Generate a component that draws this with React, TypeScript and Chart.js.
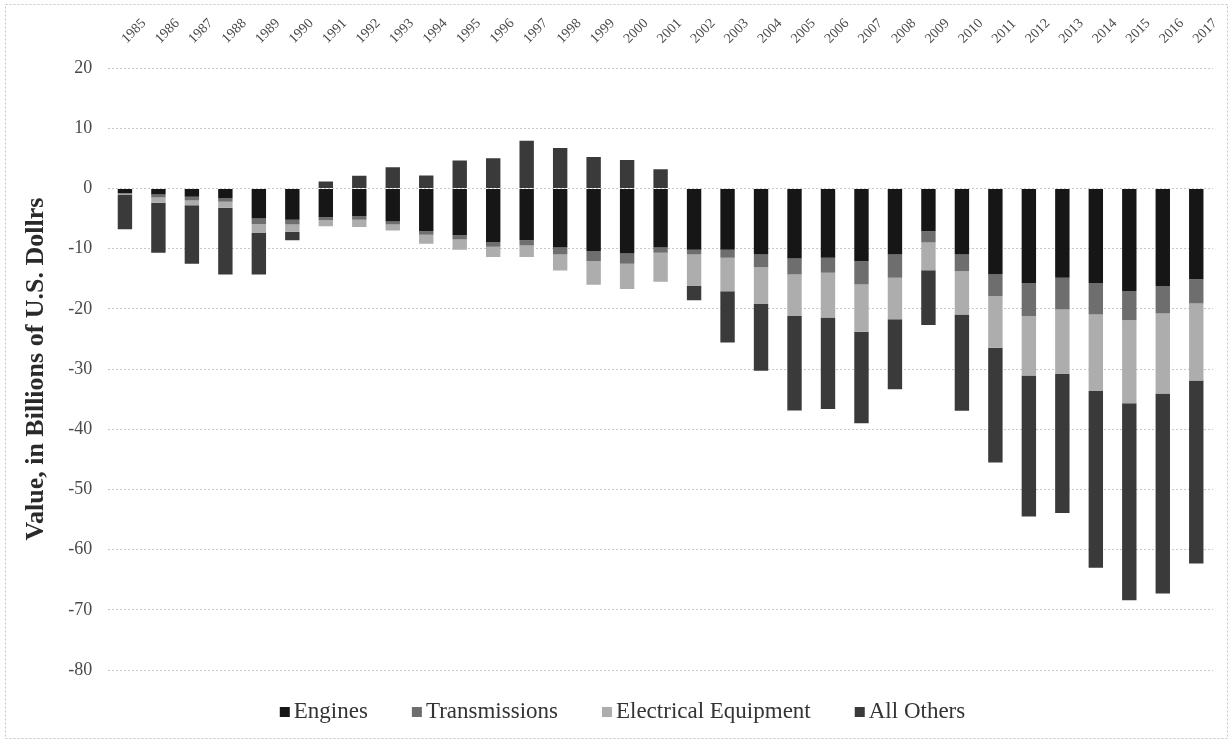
import React, { useEffect, useRef } from "react";
import { Chart, registerables } from "chart.js";

Chart.register(...registerables);

const years = [
  "1985", "1986", "1987", "1988", "1989", "1990", "1991", "1992", "1993", "1994",
  "1995", "1996", "1997", "1998", "1999", "2000", "2001", "2002", "2003", "2004",
  "2005", "2006", "2007", "2008", "2009", "2010", "2011", "2012", "2013", "2014",
  "2015", "2016", "2017",
];

const engines = [
  -0.8, -1.0, -1.4, -1.6, -5.0, -5.2, -4.8, -4.6, -5.5, -7.1,
  -7.8, -8.9, -8.6, -9.8, -10.4, -10.8, -9.8, -10.2, -10.2, -11.0,
  -11.65, -11.5, -12.1, -11.0, -7.1, -11.0, -14.2, -15.7, -14.85, -15.7,
  -17.05, -16.2, -15.1,
];

const transmissions = [
  -0.1, -0.5, -0.6, -0.6, -0.9, -0.8, -0.5, -0.6, -0.5, -0.6,
  -0.7, -0.8, -0.9, -1.2, -1.65, -1.7, -0.9, -0.8, -1.3, -2.1,
  -2.65, -2.5, -3.85, -3.85, -1.9, -2.75, -3.7, -5.5, -5.25, -5.25,
  -4.85, -4.6, -4.0,
];

const electrical = [
  -0.1, -0.9, -0.8, -1.0, -1.5, -1.2, -1.0, -1.2, -1.0, -1.5,
  -1.7, -1.7, -1.9, -2.65, -3.95, -4.2, -4.8, -5.2, -5.6, -6.1,
  -6.9, -7.45, -7.85, -6.9, -4.6, -7.2, -8.55, -9.9, -10.75, -12.7,
  -13.8, -13.25, -12.8,
];

const allOthers = [
  -5.8, -8.3, -9.7, -11.1, -6.9, -1.4, 1.15, 2.1, 3.5, 2.15,
  4.65, 5.0, 7.9, 6.7, 5.2, 4.7, 3.2, -2.4, -8.5, -11.1,
  -15.7, -15.2, -15.2, -11.6, -9.1, -16.0, -19.1, -23.4, -23.05, -29.35,
  -32.7, -33.25, -30.4,
];

const seriesLabels = ["Engines", "Transmissions", "Electrical Equipment", "All Others"];
const seriesColors = ["#161616", "#6e6e6e", "#adadad", "#3a3a3a"];

const yMin = -80;
const yMax = 20;
const yStep = 10;

const axisTitle = "Value, in Billions of U.S. Dollrs";

const SERIF = "'Liberation Serif', 'Times New Roman', serif";

const frameAndLegend = {
  id: "frameAndLegend",
  beforeDraw(chart: any) {
    const { ctx, width, height } = chart;
    ctx.save();
    ctx.fillStyle = "#ffffff";
    ctx.fillRect(0, 0, width, height);
    ctx.strokeStyle = "#c4c4c4";
    ctx.lineWidth = 1;
    ctx.setLineDash([2, 2]);
    ctx.strokeRect(5.5, 4.5, width - 9, height - 8);
    ctx.restore();
  },
  afterDraw(chart: any) {
    const { ctx, width, chartArea } = chart;
    ctx.save();
    ctx.font = "23px " + SERIF;
    ctx.textBaseline = "middle";
    const box = 10;
    const boxGap = 4;
    const itemGap = 44;
    const items = chart.data.datasets.map((ds: any) => ({
      text: ds.label,
      color: ds.backgroundColor,
      w: ctx.measureText(ds.label).width,
    }));
    const total =
      items.reduce((s: number, it: any) => s + box + boxGap + it.w, 0) +
      itemGap * (items.length - 1);
    let x = width / 2 + 7 - total / 2;
    const y = chartArea.bottom + 42;
    items.forEach((it: any) => {
      ctx.fillStyle = it.color;
      ctx.fillRect(x, y - box / 2, box, box);
      ctx.fillStyle = "#333333";
      ctx.fillText(it.text, x + box + boxGap, y);
      x += box + boxGap + it.w + itemGap;
    });
    ctx.restore();
  },
};

export default function App() {
  const canvasRef = useRef<HTMLCanvasElement | null>(null);

  useEffect(() => {
    if (!canvasRef.current) return;
    const seriesData = [engines, transmissions, electrical, allOthers];
    const chart = new Chart(canvasRef.current, {
      type: "bar",
      data: {
        labels: years,
        datasets: seriesLabels.map((label, i) => ({
          label,
          data: seriesData[i],
          backgroundColor: seriesColors[i],
          borderWidth: 0,
          categoryPercentage: 1,
          barPercentage: 0.43,
        })),
      },
      options: {
        responsive: false,
        animation: false,
        devicePixelRatio: 1,
        layout: { padding: { left: 10, right: 18, top: 0, bottom: 72 } },
        plugins: {
          legend: { display: false },
          tooltip: { enabled: false },
          title: { display: false },
        },
        scales: {
          x: {
            type: "category",
            position: "top",
            stacked: true,
            grid: { display: false, drawTicks: false },
            border: { display: false },
            ticks: {
              autoSkip: false,
              maxRotation: 45,
              minRotation: 45,
              padding: 21,
              labelOffset: 11,
              color: "#4a4a4a",
              font: { family: SERIF, size: 14 },
            },
            afterFit(scale: any) {
              scale.height = 68;
              scale.paddingLeft = 0;
              scale.paddingRight = 0;
            },
          },
          y: {
            stacked: true,
            min: yMin,
            max: yMax,
            ticks: {
              stepSize: yStep,
              padding: 16,
              color: "#4a4a4a",
              font: { family: SERIF, size: 18 },
            },
            grid: { color: "#c8c8c8", lineWidth: 1, drawTicks: false },
            border: { display: false, dash: [2, 2] },
            title: {
              display: true,
              text: axisTitle,
              color: "#2a2a2a",
              padding: { top: 11, bottom: 0 },
              font: { family: SERIF, size: 26, weight: "bold" },
            },
          },
        },
      },
      plugins: [frameAndLegend],
    });
    return () => chart.destroy();
  }, []);

  return (
    <div style={{ position: "absolute", left: 0, top: 0, width: 1231, height: 742 }}>
      <canvas ref={canvasRef} width={1231} height={742} style={{ width: 1231, height: 742, display: "block" }} />
    </div>
  );
}
